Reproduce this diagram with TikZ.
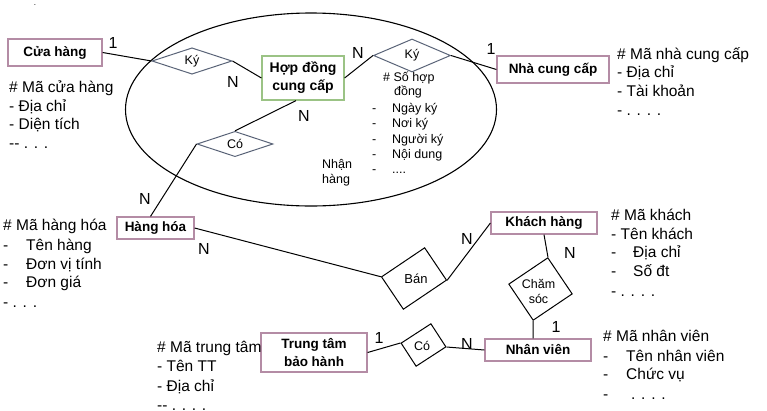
\documentclass[tikz,border=0pt]{standalone}
\usepackage{fontspec}
\setmainfont{Liberation Sans}
\usetikzlibrary{shapes.geometric}
\definecolor{entcol}{HTML}{B48CA5}
\definecolor{hdcol}{HTML}{9BC385}
\definecolor{relcol}{HTML}{5A6478}
\begin{document}
\begin{tikzpicture}[x=1pt,y=-1pt,
  ent/.style={draw=entcol, line width=1.2pt, fill=white, inner sep=0pt, align=center, font=\bfseries\fontsize{13.5}{18}\selectfont},
  reld/.style={diamond, draw=relcol, line width=1pt, inner sep=0pt, font=\fontsize{12.5}{15}\selectfont},
  relr/.style={rectangle, draw=black, line width=1pt, inner sep=0pt},
  lbl/.style={inner sep=0pt, font=\fontsize{12.5}{15}\selectfont, align=center},
  attr/.style={anchor=base west, inner sep=0pt, font=\fontsize{15.5}{18}\selectfont},
  sattr/.style={anchor=base west, inner sep=0pt, font=\fontsize{12.5}{15}\selectfont},
  card/.style={inner sep=0pt, font=\fontsize{16}{16}\selectfont},
  conn/.style={draw=black, line width=1pt}]
\useasboundingbox (0,0) rectangle (767,410);
\fill[white] (0,0) rectangle (767,410);
\draw[line width=1.1pt] (311,109.5) ellipse [x radius=185.5pt, y radius=96.5pt];
\node[inner sep=0pt, font=\fontsize{8}{8}\selectfont] (dot) at (35,5) {.};

% entities
\node[ent, minimum width=94pt, minimum height=27pt] (ch) at (55,52.5) {Cửa hàng};
\node[ent, draw=hdcol, minimum width=82pt, minimum height=44pt, font=\bfseries\fontsize{14}{18}\selectfont] (hd) at (303,78) {Hợp đồng\\cung cấp};
\node[ent, minimum width=112pt, minimum height=27pt] (ncc) at (553,69.5) {Nhà cung cấp};
\node[ent, minimum width=77pt, minimum height=22pt] (hh) at (155.5,228) {Hàng hóa};
\node[ent, minimum width=106pt, minimum height=22pt] (kh) at (544,223) {Khách hàng};
\node[ent, minimum width=106pt, minimum height=22pt] (nv) at (538,350) {Nhân viên};
\node[ent, minimum width=106pt, minimum height=39pt] (tt) at (314,352.5) {Trung tâm\\bảo hành};

% relationships
\node[reld, minimum width=80pt, minimum height=22pt] (ky1) at (192,61) {Ký};
\node[reld, minimum width=77pt, minimum height=33pt] (ky2) at (412,55.5) {Ký};
\node[reld, minimum width=76pt, minimum height=22pt] (co1) at (235,144) {Có};
\node[relr, rotate=34, minimum width=52pt, minimum height=39pt] (ban) at (414,278.5) {};
\node[lbl, font=\fontsize{13}{15}\selectfont] (banl) at (416,279) {Bán};
\node[relr, rotate=34, minimum width=47pt, minimum height=43.5pt] (cs) at (540.5,289) {};
\node[lbl] (csl) at (538.5,291.5) {Chăm\\sóc};
\node[relr, rotate=33, minimum width=35.5pt, minimum height=27.5pt] (co2) at (423.5,345) {};
\node[lbl] (co2l) at (422,346) {Có};

% connectors
\draw[conn] (ch.east) -- (ky1.west);
\draw[conn] (ky1.east) -- (hd.west);
\draw[conn] (hd.east) -- (ky2.west);
\draw[conn] (ky2.east) -- (ncc.west);
\draw[conn] ([xshift=-7pt]hd.south) -- (co1.north);
\draw[conn] (co1.west) -- ([xshift=-5pt]hh.north);
\draw[conn] (hh.east) -- (ban.north west);
\draw[conn] (ban.south east) -- (kh.west);
\draw[conn] (kh.south) -- (cs.north east);
\draw[conn] (cs.south west) -- ([xshift=-5pt]nv.north);
\draw[conn] (tt.east) -- (co2.north west);
\draw[conn] (co2.south east) -- (nv.west);

% cardinalities
\node[card] (c1) at (113,43) {1};
\node[card] (c2) at (233,82) {N};
\node[card] (c3) at (358,53) {N};
\node[card] (c4) at (304,116) {N};
\node[card] (c5) at (491,49) {1};
\node[card] (c6) at (145,199) {N};
\node[card] (c7) at (204,249) {N};
\node[card] (c8) at (467,239) {N};
\node[card] (c9) at (570,253) {N};
\node[card] (c10) at (556,327) {1};
\node[card] (c11) at (467,344) {N};
\node[card] (c12) at (379,338) {1};

% attributes: Cua hang
\node[attr] (a1) at (9,92.7) {\# Mã cửa hàng};
\node[attr] (a2) at (9,111) {- Địa chỉ};
\node[attr] (a3) at (9,129.5) {- Diện tích};
\node[attr] (a4) at (9,148) {{-}{-} . . .};
% Nha cung cap
\node[attr] (b1) at (617,59) {\# Mã nhà cung cấp};
\node[attr] (b2) at (617,77.7) {- Địa chỉ};
\node[attr] (b3) at (617,96.7) {- Tài khoản};
\node[attr] (b4) at (617,115.7) {- . . . .};
% Hang hoa
\node[attr] (d1) at (3,230) {\# Mã hàng hóa};
\node[attr] (d2) at (3,250) {\makebox[23pt][l]{-}Tên hàng};
\node[attr] (d3) at (3,269) {\makebox[23pt][l]{-}Đơn vị tính};
\node[attr] (d4) at (3,287.7) {\makebox[23pt][l]{-}Đơn giá};
\node[attr] (d5) at (3,307) {- . . .};
% Trung tam
\node[attr] (e1) at (157,352) {\# Mã trung tâm};
\node[attr] (e2) at (157,371.7) {- Tên TT};
\node[attr] (e3) at (157,391) {- Địa chỉ};
\node[attr] (e4) at (157,410.5) {{-}{-} . . . .};
% Khach hang
\node[attr] (f1) at (611,220) {\# Mã khách};
\node[attr] (f2) at (611,239) {- Tên khách};
\node[attr] (f3) at (611,257.7) {\makebox[22pt][l]{-}Địa chỉ};
\node[attr] (f4) at (611,276.7) {\makebox[22pt][l]{-}Số đt};
\node[attr] (f5) at (611,296) {- . . . .};
% Nhan vien
\node[attr] (g1) at (603,341.7) {\# Mã nhân viên};
\node[attr] (g2) at (603,361) {\makebox[23pt][l]{-}Tên nhân viên};
\node[attr] (g3) at (603,379) {\makebox[23pt][l]{-}Chức vụ};
\node[attr] (g4) at (603,399) {\makebox[28pt][l]{-}. . . .};
% Hop dong attributes
\node[sattr] (h1) at (383,81) {\# Số hợp};
\node[inner sep=0pt, anchor=base, font=\fontsize{12.5}{15}\selectfont] (h2) at (408,95.7) {đồng};
\node[sattr] (h3) at (372,112.3) {\makebox[20pt][l]{-}Ngày ký};
\node[sattr] (h4) at (372,127.7) {\makebox[20pt][l]{-}Nơi ký};
\node[sattr] (h5) at (372,143.1) {\makebox[20pt][l]{-}Người ký};
\node[sattr] (h6) at (372,158.5) {\makebox[20pt][l]{-}Nội dung};
\node[sattr] (h7) at (372,173.9) {\makebox[20pt][l]{-}....};
\node[sattr] (n1) at (322,168) {Nhận};
\node[sattr] (n2) at (322,183) {hàng};
\end{tikzpicture}
\end{document}
